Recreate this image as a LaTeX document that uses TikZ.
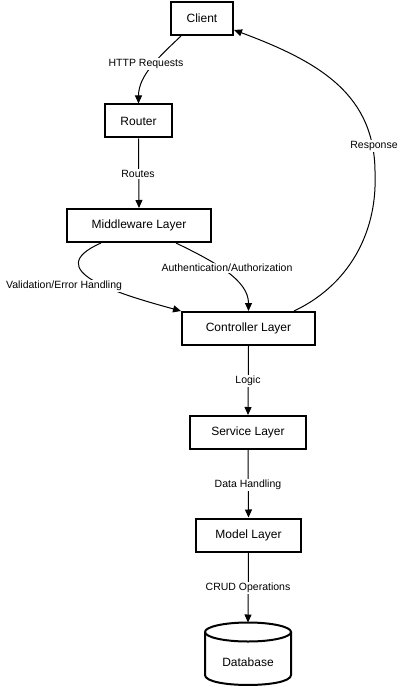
\documentclass[tikz,border=0pt]{standalone}
\usepackage{fontspec}
\setmainfont{Liberation Sans}
\usetikzlibrary{arrows.meta,calc}
\begin{document}
\begin{tikzpicture}[x=1pt,y=-1pt,
  box/.style={draw,line width=2pt,inner sep=0pt,minimum height=33pt,font=\fontsize{12}{14}\selectfont},
  lbl/.style={fill=white,inner sep=1pt,font=\fontsize{10.5}{12}\selectfont},
  edge/.style={line width=1pt,-{Triangle[length=8pt,width=7pt]}}]
\useasboundingbox (0,0) rectangle (405,687);
% nodes
\node[box,minimum width=62pt]  (client) at (202,18.5)   {Client};
\node[box,minimum width=67pt]  (router) at (138.5,121)  {Router};
\node[box,minimum width=144pt] (mw)     at (139,225.5)  {Middleware Layer};
\node[box,minimum width=133pt] (ctrl)   at (248.5,328.5){Controller Layer};
\node[box,minimum width=116pt] (svc)    at (248,432.5)  {Service Layer};
\node[box,minimum width=105pt] (model)  at (248.5,535)  {Model Layer};
% database cylinder
\draw[line width=2pt] (205,632) -- (205,675) .. controls (205,688.3) and (291,688.3) .. (291,675) -- (291,632);
\draw[line width=2pt] (248,632) ellipse (43 and 9.5);
\coordinate (dbtop) at (248,622.5);
\node[inner sep=0pt,font=\fontsize{12}{14}\selectfont] (db) at (248,662) {Database};
% connectors
\draw[edge] ($(client.south)+(-21,0)$) .. controls (160,56) and (138.5,75) .. (router.north);
\draw[edge] (router.south) -- (mw.north);
\draw[edge] ($(mw.south)+(-38,0)$) .. controls (40,270) and (115,293) .. (ctrl.north west);
\draw[edge] ($(mw.south)+(37,0)$) .. controls (215,262) and (248.5,280) .. (ctrl.north);
\draw[edge] ($(ctrl.north east)+(-22,0)$) .. controls (355,282) and (377,225) .. (375,175)
   .. controls (376,95) and (320,62) .. ($(client.east)+(0,11.5)$);
\draw[edge] (ctrl.south) -- (svc.north);
\draw[edge] (svc.south) -- (model.north);
\draw[edge] (model.south) -- (dbtop);
% labels
\node[lbl] (l1) at (146,64)  {HTTP Requests};
\node[lbl] (l2) at (138,174) {Routes};
\node[lbl] (l3) at (64,286)  {Validation/Error Handling};
\node[lbl] (l4) at (227,268) {Authentication/Authorization};
\node[lbl] (l5) at (374,146) {Response};
\node[lbl] (l6) at (248,381) {Logic};
\node[lbl] (l7) at (248,485) {Data Handling};
\node[lbl] (l8) at (248,588) {CRUD Operations};
\end{tikzpicture}
\end{document}
